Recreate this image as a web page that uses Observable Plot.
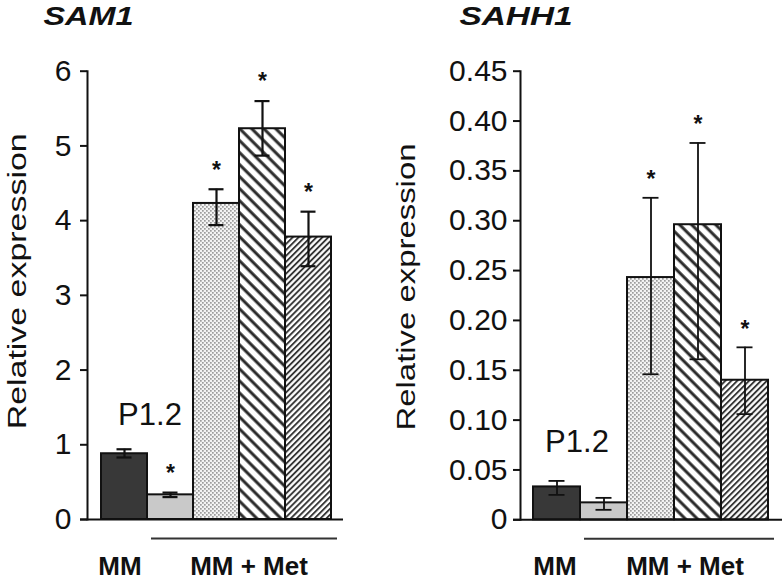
<!DOCTYPE html>
<html><head><meta charset="utf-8">
<script src="https://cdn.jsdelivr.net/npm/d3@7"></script>
<script src="https://cdn.jsdelivr.net/npm/@observablehq/plot@0.6"></script>
<style>
body{margin:0;background:#fff;}
#wrap{position:relative;width:784px;height:580px;display:flex;overflow:hidden;background:#fff;}
</style></head><body>
<svg width="0" height="0" style="position:absolute">
<defs>
<pattern id="pat-dots" width="4" height="4" patternUnits="userSpaceOnUse">
 <rect width="4" height="4" fill="#f3f3f3"/>
 <rect x="0" y="0" width="1.7" height="1.7" fill="#9c9c9c"/>
 <rect x="2" y="2" width="1.7" height="1.7" fill="#9c9c9c"/>
</pattern>
<pattern id="pat-wide" width="8.5" height="10" patternUnits="userSpaceOnUse" patternTransform="rotate(-45)">
 <rect width="8.5" height="10" fill="#fff"/>
 <line x1="2" y1="0" x2="2" y2="10" stroke="#2a2a2a" stroke-width="3"/>
</pattern>
<pattern id="pat-narrow" width="4.2" height="10" patternUnits="userSpaceOnUse" patternTransform="rotate(45)">
 <rect width="4.2" height="10" fill="#fff"/>
 <line x1="1" y1="0" x2="1" y2="10" stroke="#2a2a2a" stroke-width="1.8"/>
</pattern>
</defs></svg>
<div id="wrap"></div>
<script>
// ---- data ----
const categories = ["MM", "MM + Met 1", "MM + Met 2", "MM + Met 3", "MM + Met 4"];
const panelTitles = ["SAM1", "SAHH1"];
const yLabel = "Relative expression";
const strainLabel = "P1.2";
const groups = [
  {label: "MM", from: "MM", to: "MM"},
  {label: "MM + Met", from: "MM + Met 1", to: "MM + Met 4"}
];

const sam1Values = [0.88, 0.33, 4.23, 5.23, 3.78];
const sam1Low    = [0.83, 0.30, 3.94, 4.87, 3.39];
const sam1High   = [0.94, 0.36, 4.42, 5.60, 4.12];
const sam1Sig    = [false, true, true, true, true];
const sam1Ticks  = [0, 1, 2, 3, 4, 5, 6];
const sam1TickLabels = ["0", "1", "2", "3", "4", "5", "6"];

const sahh1Values = [0.033, 0.017, 0.243, 0.296, 0.140];
const sahh1Low    = [0.025, 0.010, 0.146, 0.161, 0.106];
const sahh1High   = [0.039, 0.022, 0.323, 0.378, 0.173];
const sahh1Sig    = [false, false, true, true, true];
const sahh1Ticks  = [0, 0.05, 0.10, 0.15, 0.20, 0.25, 0.30, 0.35, 0.40, 0.45];
const sahh1TickLabels = ["0", "0.05", "0.10", "0.15", "0.20", "0.25", "0.30", "0.35", "0.40", "0.45"];

// ---- styles ----
const barFills = ["#383838", "#c9c9c9", "url(#pat-dots)", "url(#pat-wide)", "url(#pat-narrow)"];
const font = "'Liberation Sans', Arial, Helvetica, sans-serif";

function panel(o) {
  const rows = categories.map((c, i) => ({cat: c, value: o.values[i], low: o.low[i], high: o.high[i], sig: o.sig[i]}));
  const tickMap = new Map(o.ticks.map((t, i) => [t, o.tickLabels[i]]));
  const marks = [];
  categories.forEach((c, i) => marks.push(
    Plot.barY(rows.filter(d => d.cat === c), {x: "cat", y: "value", fill: barFills[i], stroke: "#111", strokeWidth: 2})
  ));
  marks.push(
    Plot.ruleX(rows, {x: "cat", y1: "low", y2: "high", stroke: "#111", strokeWidth: o.errWidth}),
    Plot.tickY(rows, {x: "cat", y: "low", stroke: "#111", strokeWidth: o.errWidth, insetLeft: 15.5, insetRight: 15.5}),
    Plot.tickY(rows, {x: "cat", y: "high", stroke: "#111", strokeWidth: o.errWidth, insetLeft: 15.5, insetRight: 15.5}),
    Plot.text(rows.filter(d => d.sig), {x: "cat", y: "high", text: () => "*", fontSize: 23, fontWeight: "bold", dy: o.starDy}),
    Plot.ruleY([0], {stroke: "#111", strokeWidth: 2, insetLeft: -7}),
    Plot.frame({anchor: "left", stroke: "#111", strokeWidth: 2}),
    Plot.axisY({ticks: o.ticks, tickFormat: d => tickMap.get(d), tickSize: 7, tickPadding: o.tickPad, fontSize: 30, stroke: "#111", strokeWidth: 2, label: null}),
    Plot.text([rows[0]], {x: "cat", y: "high", text: () => strainLabel, dx: o.strainDx, dy: o.strainDy, lineAnchor: "bottom", fontSize: 31}),
    Plot.text([yLabel], {frameAnchor: "left", textAnchor: "middle", text: d => d, rotate: -90, dx: o.labelDx, dy: o.labelDy, fontSize: 25}),
    Plot.text([o.title], {frameAnchor: "top-left", text: d => d, textAnchor: "middle", lineAnchor: "bottom", dx: o.titleDx, dy: -45.7, fontSize: 26, fontWeight: "bold", fontStyle: "italic"}),
    Plot.ruleY(groups.filter(g => g.from !== g.to), {x1: "from", x2: "to", y: () => 0, dy: 19, insetLeft: 4, insetRight: -6, stroke: "#333", strokeWidth: 2}),
    Plot.text([groups[0]], {x: "from", y: () => 0, text: "label", dx: o.mmDx, dy: 55, lineAnchor: "bottom", fontSize: 26, fontWeight: "bold"}),
    Plot.text([groups[1]], {x: "from", y: () => 0, text: "label", dx: o.metDx, dy: 55, lineAnchor: "bottom", fontSize: 26, fontWeight: "bold"})
  );
  const svg = Plot.plot({
    width: 392, height: 580,
    marginLeft: o.ml, marginRight: o.mr, marginTop: 70.7, marginBottom: o.mb,
    x: {domain: categories, range: o.xRange, padding: 0, axis: null},
    y: {domain: o.yDomain},
    style: {fontFamily: font, color: "#111", background: "#fff", overflow: "visible"},
    marks
  });
  d3.select(svg).selectAll("text").each(function() {
    const t = this.textContent;
    if (t === yLabel) { this.setAttribute("textLength", o.labelLen); this.setAttribute("lengthAdjust", "spacingAndGlyphs"); }
    if (t === o.title) { this.setAttribute("textLength", o.titleLen); this.setAttribute("lengthAdjust", "spacingAndGlyphs"); }
  });
  return svg;
}

const wrap = document.getElementById("wrap");
wrap.appendChild(panel({
  title: panelTitles[0], values: sam1Values, low: sam1Low, high: sam1High, sig: sam1Sig,
  ticks: sam1Ticks, tickLabels: sam1TickLabels, yDomain: [0, 6],
  ml: 87, mr: 49, mb: 61, xRange: [99, 333], errWidth: 2.2, starDy: -19, tickPad: 9,
  strainDx: 25.5, strainDy: -24, labelDx: -70, labelDy: -14, labelLen: 296,
  titleDx: 1, titleLen: 90, mmDx: -4.5, metDx: 78.5
}));
wrap.appendChild(panel({
  title: panelTitles[1], values: sahh1Values, low: sahh1Low, high: sahh1High, sig: sahh1Sig,
  ticks: sahh1Ticks, tickLabels: sahh1TickLabels, yDomain: [0, 0.45],
  ml: 128, mr: 2, mb: 60.7, xRange: [140, 376], errWidth: 1.8, starDy: -18, tickPad: 6,
  strainDx: 20, strainDy: -29, labelDx: -114, labelDy: -8.5, labelLen: 287,
  titleDx: -4.5, titleLen: 113, mmDx: -2, metDx: 81
}));
</script>
</body></html>
